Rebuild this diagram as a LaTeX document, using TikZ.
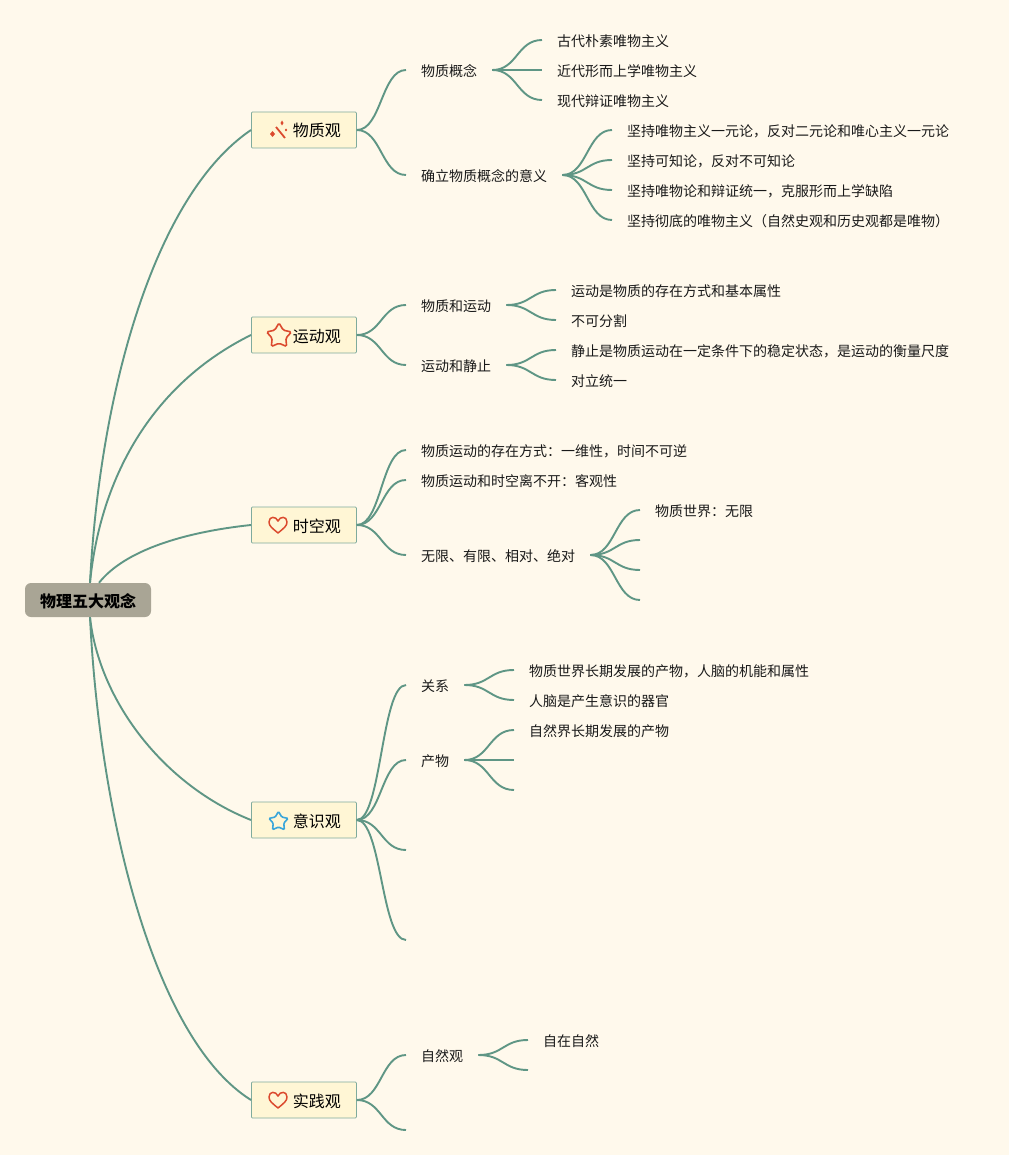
\documentclass[tikz,border=0pt]{standalone}
\usepackage{fontspec}
\setmainfont{Noto Sans CJK SC}
\usepackage{xcolor}
\usetikzlibrary{shapes.geometric,calc}
\definecolor{paper}{HTML}{FFF9EC}
\definecolor{linkc}{HTML}{5F9685}
\definecolor{topicc}{HTML}{FFF6D5}
\definecolor{rootc}{HTML}{A9A595}
\definecolor{redc}{HTML}{DB4A2E}
\definecolor{bluec}{HTML}{3AA6DA}
\newcommand{\sbranch}[2]{\draw[lnk] (#1) .. controls ($(#1)!.5!(#2 |- #1)$) and ($(#2)!.5!(#1 |- #2)$) .. (#2);}

\begin{document}
\begin{tikzpicture}[
  x=1pt, y=-1pt,
  root/.style={draw=none, fill=rootc, rounded corners=6pt, minimum width=126pt, minimum height=34pt, inner sep=0pt, text height=16pt, text depth=2pt, font=\fontsize{16}{18}\selectfont\bfseries},
  topic/.style={draw=linkc!80, fill=topicc, line width=0.8pt, rounded corners=1pt, anchor=west, minimum width=105pt, minimum height=36pt, inner sep=0pt, text height=16pt, text depth=2pt, font=\fontsize{16}{18}\selectfont, execute at begin node=\hspace*{26pt}},
  leaf/.style={anchor=west, inner xsep=15pt, inner ysep=2pt, text height=14.5pt, text depth=2pt, font=\fontsize{14}{16}\selectfont, text=black!90},
  lnk/.style={draw=linkc, line width=1.9pt},
  heart/.style={draw=redc, line width=1.5pt, line join=round},
]
\fill[paper] (0,0) rectangle (1009,1155);
\useasboundingbox (0,0) rectangle (1009,1155);

\node[root] (wuli) at (88,600) {物理五大观念};
\node[topic] (wuzhi) at (251,130) {物质观};
\node[topic] (yundong) at (251,335) {运动观};
\node[topic] (shikong) at (251,525) {时空观};
\node[topic] (yishi) at (251,820) {意识观};
\node[topic] (shijian) at (251,1100) {实践观};

\node[leaf] (gainian) at (406,70) {物质概念};
\node[leaf] (gudai) at (542,40) {古代朴素唯物主义};
\node[leaf] (jindai) at (542,70) {近代形而上学唯物主义};
\node[leaf] (xiandai) at (542,100) {现代辩证唯物主义};
\node[leaf] (yiyi) at (406,175) {确立物质概念的意义};
\node[leaf] (yiyia) at (612,130) {坚持唯物主义一元论，反对二元论和唯心主义一元论};
\node[leaf] (yiyib) at (612,160) {坚持可知论，反对不可知论};
\node[leaf] (yiyic) at (612,190) {坚持唯物论和辩证统一，克服形而上学缺陷};
\node[leaf] (yiyid) at (612,220) {坚持彻底的唯物主义（自然史观和历史观都是唯物）};

\node[leaf] (hey) at (406,305) {物质和运动};
\node[leaf] (heya) at (556,290) {运动是物质的存在方式和基本属性};
\node[leaf] (heyb) at (556,320) {不可分割};
\node[leaf] (jingzhi) at (406,365) {运动和静止};
\node[leaf] (jingzhia) at (556,350) {静止是物质运动在一定条件下的稳定状态，是运动的衡量尺度};
\node[leaf] (jingzhib) at (556,380) {对立统一};

\node[leaf] (fangshi) at (406,450) {物质运动的存在方式：一维性，时间不可逆};
\node[leaf] (likai) at (406,480) {物质运动和时空离不开：客观性};
\node[leaf] (wuxian) at (406,555) {无限、有限、相对、绝对};
\node[leaf] (shijie) at (640,510) {物质世界：无限};
\coordinate (wuxianb) at (640,540);
\coordinate (wuxianc) at (640,570);
\coordinate (wuxiand) at (640,600);

\node[leaf] (guanxi) at (406,685) {关系};
\node[leaf] (guanxia) at (514,670) {物质世界长期发展的产物，人脑的机能和属性};
\node[leaf] (guanxib) at (514,700) {人脑是产生意识的器官};
\node[leaf] (chanwu) at (406,760) {产物};
\node[leaf] (chanwua) at (514,730) {自然界长期发展的产物};
\coordinate (chanwub) at (514,760);
\coordinate (chanwuc) at (514,790);
\coordinate (yishic) at (406,850);
\coordinate (yishid) at (406,940);

\node[leaf] (ziran) at (406,1055) {自然观};
\node[leaf] (zizai) at (528,1040) {自在自然};
\coordinate (zirani) at (528,1070);
\coordinate (shijianb) at (406,1130);

\draw[lnk] ($(wuli.north)+(2,0)$) .. controls (100,390) and (155,195) .. (wuzhi.west);
\draw[lnk] ($(wuli.north)+(2,0)$) .. controls (100,480) and (150,385) .. (yundong.west);
\draw[lnk] ($(wuli.north)+(11,0)$) .. controls (125,550) and (185,532) .. (shikong.west);
\draw[lnk] ($(wuli.south)+(2,0)$) .. controls (99,700) and (163,785) .. (yishi.west);
\draw[lnk] ($(wuli.south)+(2,0)$) .. controls (100,820) and (155,1040) .. (shijian.west);

\foreach \from/\to in {wuzhi/gainian, wuzhi/yiyi, gainian/gudai, gainian/jindai, gainian/xiandai,
  yiyi/yiyia, yiyi/yiyib, yiyi/yiyic, yiyi/yiyid, yundong/hey, yundong/jingzhi, hey/heya, hey/heyb,
  jingzhi/jingzhia, jingzhi/jingzhib, shikong/fangshi, shikong/likai, shikong/wuxian, wuxian/shijie,
  yishi/guanxi, yishi/chanwu, guanxi/guanxia, guanxi/guanxib, chanwu/chanwua, shijian/ziran, ziran/zizai}
  \sbranch{\from.east}{\to.west};
\foreach \from/\to in {wuxian/wuxianb, wuxian/wuxianc, wuxian/wuxiand, chanwu/chanwub, chanwu/chanwuc,
  yishi/yishic, yishi/yishid, ziran/zirani, shijian/shijianb}
  \sbranch{\from.east}{\to};

\draw[redc, line width=1.8pt] (276,127) -- (285,138);
\fill[redc] (282,120.5) -- (283.5,123) -- (282,125.5) -- (280.5,123) -- cycle;
\fill[redc] (272.5,131) -- (275,134) -- (272.5,137) -- (270,134) -- cycle;
\fill[redc] (286,128.5) -- (287.2,130) -- (286,131.5) -- (284.8,130) -- cycle;
\node[star, star points=5, star point ratio=1.8, draw=redc, line width=1.6pt, rounded corners=1.5pt, minimum size=26pt, inner sep=0pt] (starred) at (279,336) {};
\node[star, star points=5, star point ratio=1.8, draw=bluec, line width=1.6pt, rounded corners=1pt, minimum size=20pt, inner sep=0pt] (starblue) at (278.5,821.5) {};
\foreach \cy in {525,1100}
  \draw[heart] (278,\cy+8) .. controls (272,\cy+3) and (269,\cy+1) .. (269,\cy-3) .. controls (269,\cy-9) and (276,\cy-9) .. (278,\cy-4) .. controls (280,\cy-9) and (287,\cy-9) .. (287,\cy-3) .. controls (287,\cy+1) and (284,\cy+3) .. (278,\cy+8) -- cycle;
\end{tikzpicture}
\end{document}
